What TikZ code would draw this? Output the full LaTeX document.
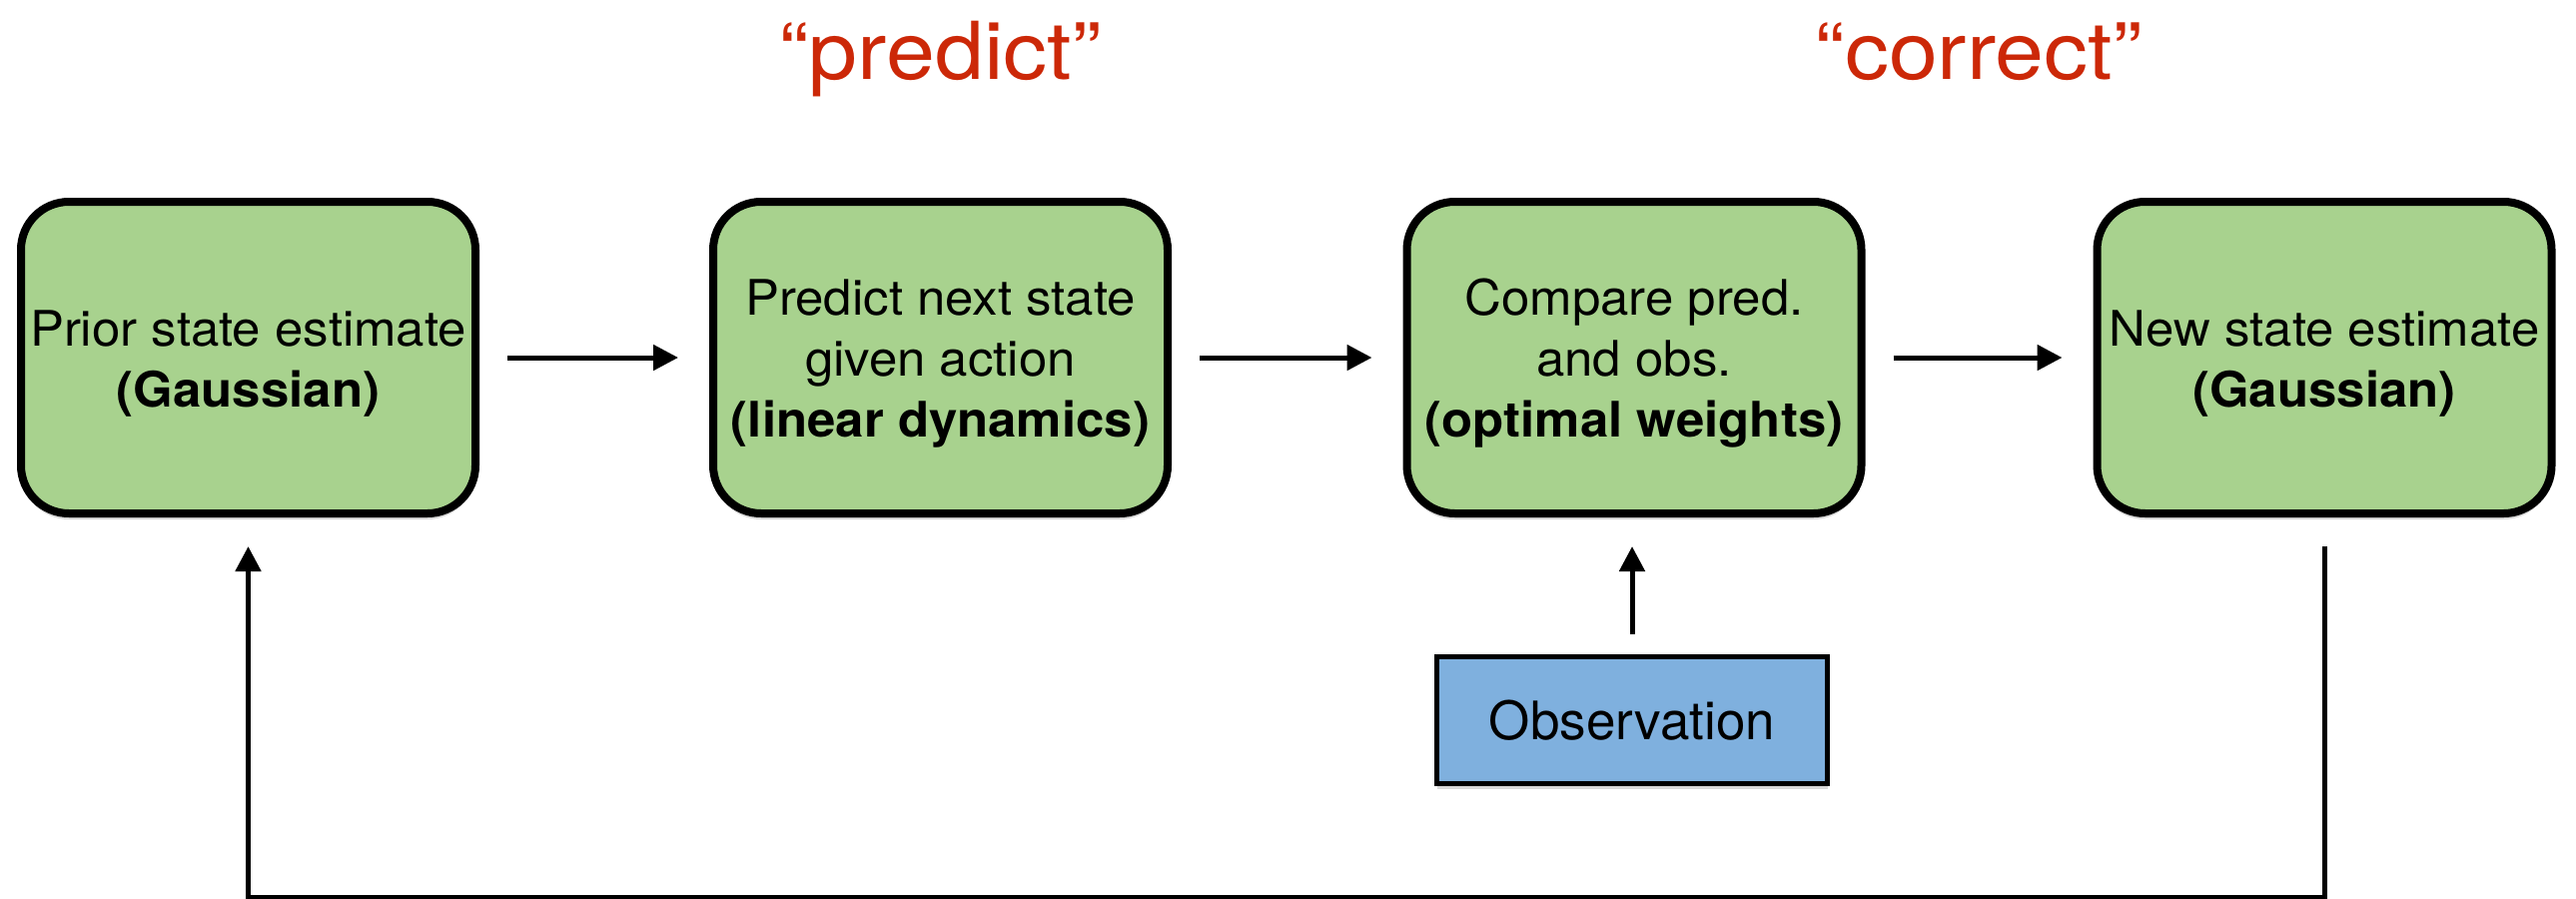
\documentclass[tikz,border=0pt]{standalone}
\usepackage{fontspec}
\setmainfont{TeX Gyre Heros}
\newfontfamily\boxfont{TeX Gyre Heros}[FakeStretch=1.04]
\newfontfamily\ttlfont{TeX Gyre Heros}[FakeStretch=1.1]
\usetikzlibrary{arrows.meta,shadows}
\definecolor{boxgreen}{RGB}{168,210,142}
\definecolor{obsblue}{RGB}{127,176,222}
\definecolor{ttlred}{RGB}{204,40,8}
\begin{document}
\begin{tikzpicture}[x=1pt,y=-1pt,
  stepbox/.style={draw=black, line width=8pt, fill=boxgreen, rounded corners=48pt,
    minimum width=455pt, minimum height=312pt, inner sep=0pt,
    drop shadow={shadow xshift=0pt, shadow yshift=-6pt, opacity=0.3}},
  boxtext/.style={align=center, inner sep=0pt,
    font=\boxfont\fontsize{49}{61}\selectfont},
  obsbox/.style={draw=black, line width=5pt, fill=obsblue,
    minimum width=391pt, minimum height=127pt, inner sep=0pt,
    font=\fontsize{53}{60}\selectfont,
    drop shadow={shadow xshift=0pt, shadow yshift=-5pt, opacity=0.3}},
  ttl/.style={text=ttlred, font=\ttlfont\fontsize{80}{90}\selectfont, inner sep=0pt, anchor=base},
  arr/.style={draw=black, line width=5pt, -{Triangle[length=25pt,width=25pt]}}
]
\useasboundingbox (0,0) rectangle (2579,899);

\node[ttl] (tpred) at (941.5,79) {“predict”};
\node[ttl] (tcorr) at (1981,79) {“correct”};

\node[stepbox] (b1) at (248.5,358) {};
\node[stepbox] (b2) at (941.5,358) {};
\node[stepbox] (b3) at (1636,358) {};
\node[stepbox] (b4) at (2327,358) {};

\node[boxtext] (t1) at ([yshift=-6pt]b1.center) {Prior state estimate\\\textbf{(Gaussian)}};
\node[boxtext] (t2) at ([yshift=-6pt]b2.center) {Predict next state\\given action\\\textbf{(linear dynamics)}};
\node[boxtext] (t3) at ([yshift=-6pt]b3.center) {Compare pred.\\and obs.\\\textbf{(optimal weights)}};
\node[boxtext] (t4) at ([yshift=-6pt]b4.center) {New state estimate\\\textbf{(Gaussian)}};

\node[obsbox] (obs) at (1634,721) {Observation};

\draw[arr, shorten <=28pt, shorten >=31pt] (b1) -- (b2);
\draw[arr, shorten <=28pt, shorten >=31pt] (b2) -- (b3);
\draw[arr, shorten <=28pt, shorten >=31pt] (b3) -- (b4);
\draw[arr, shorten <=20pt, shorten >=29pt] (obs.north) -- (b3.south -| obs.north);

\coordinate (lr) at (2327,898);
\coordinate (ll) at (248.5,898);
\draw[arr, shorten <=29pt, shorten >=29pt] (b4.south) -- (lr) -- (ll) -- (b1.south);
\end{tikzpicture}
\end{document}
